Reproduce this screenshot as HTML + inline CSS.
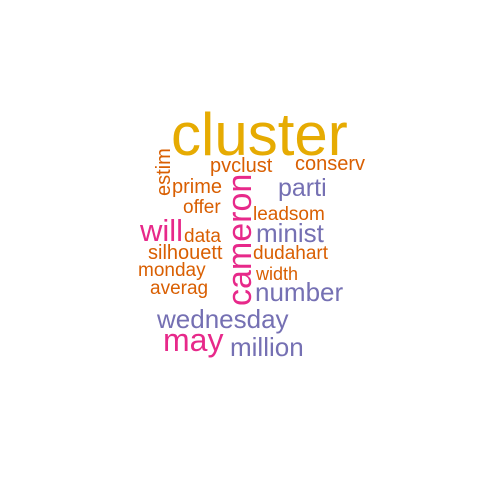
<!DOCTYPE html>
<html><head><meta charset="utf-8"><style>
html,body{margin:0;padding:0;background:#fff}
svg text{font-family:"Liberation Sans",Arial,sans-serif}
</style></head><body>
<svg width="480" height="480" viewBox="0 0 480 480">
<rect width="480" height="480" fill="#fff"/>
<g id="words"></g>
</svg>
<script>
const words=["cluster","pvclust","conserv","estim","prime","cameron","parti","offer","leadsom","will","data","minist","silhouett","dudahart","monday","width","averag","number","wednesday","may","million"];
const sizes=[60,20,20,20,20,34,25,19,19,31,19,26,20,19,19,18,19,26,26,32,26];
const colors=["#E6AB02","#D95F02","#D95F02","#D95F02","#D95F02","#E7298A","#7570B3","#D95F02","#D95F02","#E7298A","#D95F02","#7570B3","#D95F02","#D95F02","#D95F02","#D95F02","#D95F02","#7570B3","#7570B3","#E7298A","#7570B3"];
const px=[171,210,295,170,172,251,278,183,253,140,184,256,148,253,138,256,150,255,157,163,230];
const py=[155,172,170,196,193,306,196,213,220,241,242,242,259,259,276,280,294,301,328,351,356];
const rot=[0,0,0,1,0,1,0,0,0,0,0,0,0,0,0,0,0,0,0,0,0];
const g=document.getElementById('words');
words.forEach((w,i)=>{
  const t=document.createElementNS('http://www.w3.org/2000/svg','text');
  
  
  t.setAttribute('x',px[i]);t.setAttribute('y',py[i]);
  t.setAttribute('font-size',sizes[i]);t.setAttribute('fill',colors[i]);
  if(rot[i])t.setAttribute('transform','rotate(-90 '+px[i]+' '+py[i]+')');
  t.textContent=w;g.appendChild(t);
});
</script>
</body></html>
